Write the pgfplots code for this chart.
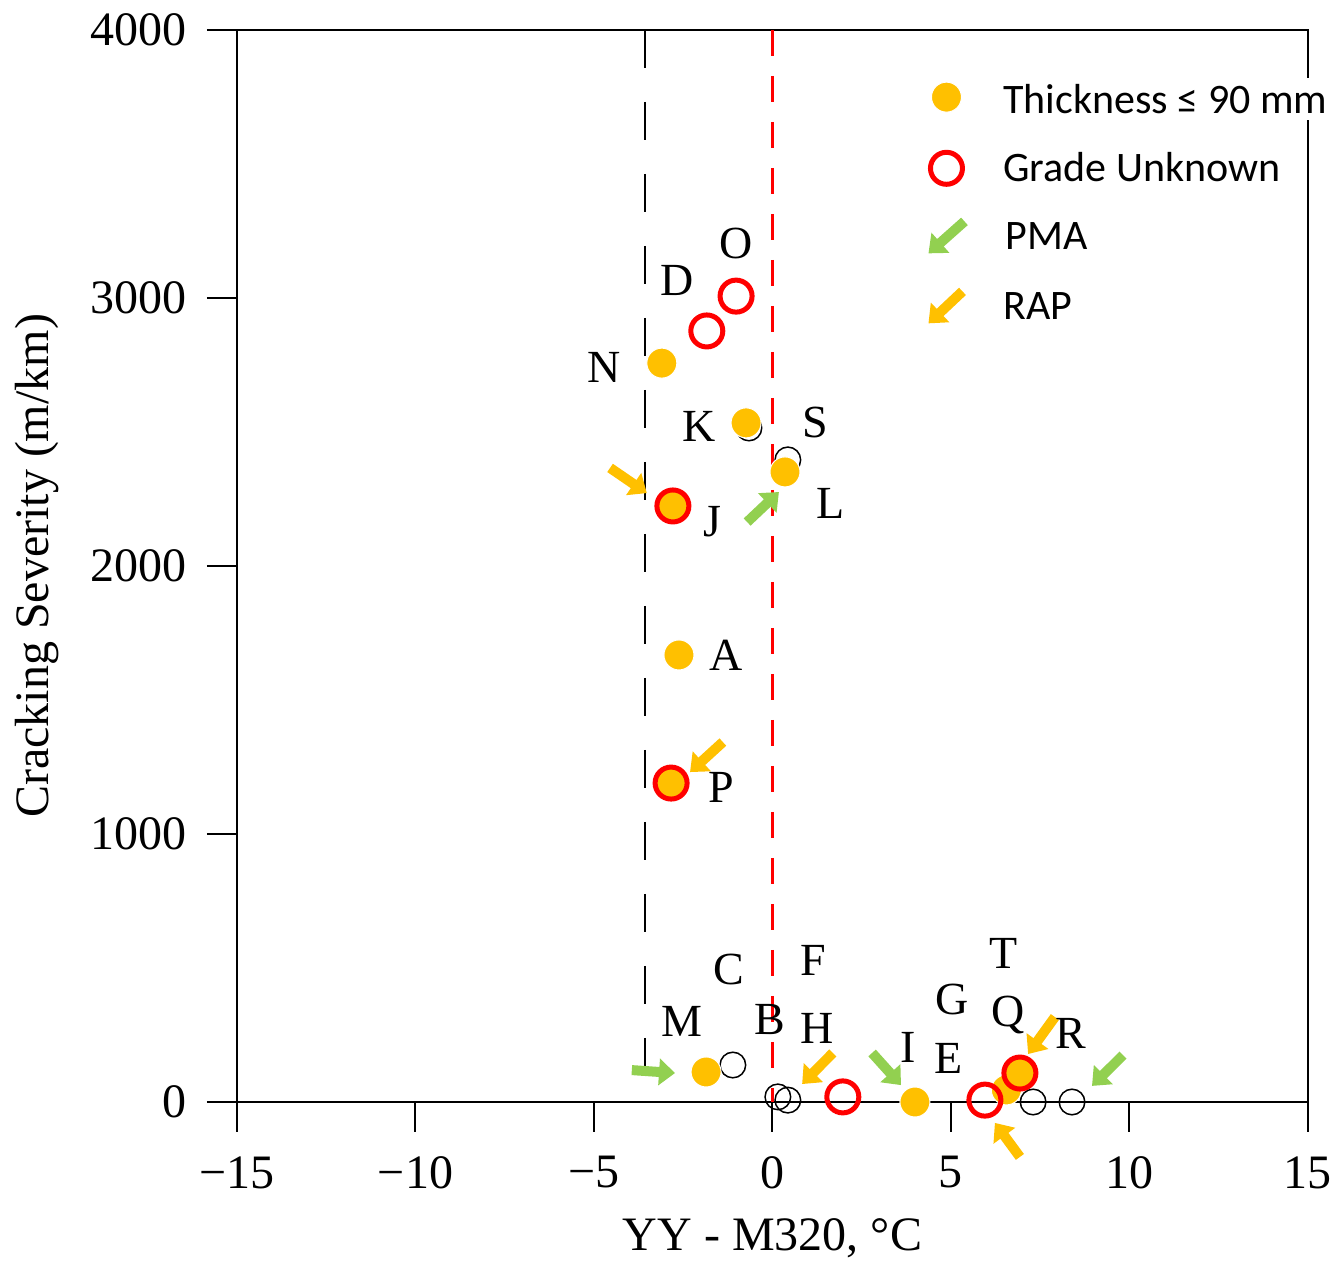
\documentclass[border=0pt]{standalone}
\usepackage{pgfplots}
\pgfplotsset{compat=1.18}
\usetikzlibrary{arrows.meta}
\usepackage{fontspec}
\setmainfont{Liberation Serif}
\newfontfamily\carlito{Carlito}
\definecolor{myyellow}{HTML}{FFC000}
\definecolor{mygreen}{HTML}{92D050}
\definecolor{myred}{HTML}{FF0000}
\begin{document}
\begin{tikzpicture}
\begin{axis}[
  name=ax, scale only axis, width=535.5pt, height=536pt,
  xmin=-15, xmax=15, ymin=0, ymax=4000,
  xtick={-15,-10,-5,0,5,10,15},
  xticklabels={−15,−10,−5,0,5,10,15},
  ytick={0,1000,2000,3000,4000},
  yticklabels={0,1000,2000,3000,4000},
  tick align=outside, tick pos=left, major tick length=15pt,
  tick style={line width=1pt, black},
  axis line style={line width=1pt},
  ticklabel style={font=\fontsize{24}{28}\selectfont},
  yticklabel style={anchor=east, inner sep=0pt, xshift=-10pt},
  xticklabel style={anchor=north, inner sep=0pt, yshift=-12pt},
  xlabel={YY - M320, °C},
  ylabel={Cracking Severity (m/km)},
  every axis x label/.style={at={(axis description cs:0.5,0)}, anchor=center, yshift=-68pt, font=\fontsize{24}{28}\selectfont},
  every axis y label/.style={at={(axis description cs:0,0.5)}, anchor=center, rotate=90, yshift=100pt, font=\fontsize{24}{28}\selectfont},
  clip=false,
  legend style={at={(axis description cs:0.635,0.963)}, anchor=north west, draw=none, fill=none,
    font=\carlito\fontsize{21}{25}\selectfont, row sep=14pt},
  legend cell align=left,
]
\coordinate (SW) at (rel axis cs:0,0);
% black open circles
\addplot[forget plot, only marks, mark=o, mark size=6.4pt, mark options={line width=0.75pt, draw=black}] table {
x y
-0.66 2515
0.43 2396
-1.11 138
0.15 19
0.43 7
7.30 0
8.39 0
};
% yellow filled dots (thickness <= 90 mm)
\addplot[only marks, mark=*, mark size=7.5pt, mark options={fill=myyellow, draw=white, line width=0.5pt}] table {
x y
-3.10 2757
-0.74 2534
0.35 2351
-2.79 2224
-2.62 1668
-2.84 1190
-1.86 112
3.99 0
6.55 45
6.93 108
};
\addlegendentry{\hspace*{12pt}\colorbox{white}{Thickness ≤ 90 mm}}
% red rings (grade unknown)
\addplot[only marks, mark=o, mark size=8pt, mark options={line width=2.5pt, draw=myred}] table {
x y
-1.84 2877
-1.02 3007
-2.79 2224
-2.84 1190
1.97 19
5.95 7
6.93 108
};
\addlegendentry{\hspace*{15pt}Grade Unknown}
\addlegendimage{legend image code/.code={\draw[mygreen, line width=5pt, -{Triangle[width=13pt,length=8pt]}] (0.3cm+9pt,8pt) -- (0.3cm-9pt,-8pt);}}
\addlegendentry{\hspace*{16pt}PMA}
\addlegendimage{legend image code/.code={\draw[myyellow, line width=5pt, -{Triangle[width=13pt,length=8pt]}] (0.3cm+8pt,8pt) -- (0.3cm-9pt,-8pt);}}
\addlegendentry{\hspace*{15pt}RAP}
% dashed reference lines
\addplot[forget plot, black, line width=1pt, dash pattern=on 19pt off 17pt] coordinates {(-3.57,4000) (-3.57,0)};
\addplot[forget plot, myred, line width=1.5pt, dash pattern=on 13pt off 10pt] coordinates {(0,4000) (0,0)};
% arrows RAP
\addplot[forget plot, myyellow, line width=5pt, -{Triangle[width=13pt,length=8pt]}, quiver={u=\thisrow{u}, v=\thisrow{v}}] table {
x y u v
-4.55 2366 1.03 -94
-1.39 1343 -0.92 -112
1.69 183 -0.86 -116
7.91 317 -0.75 -138
6.93 -205 -0.70 127
};
% arrows PMA
\addplot[forget plot, mygreen, line width=5pt, -{Triangle[width=13pt,length=8pt]}, quiver={u=\thisrow{u}, v=\thisrow{v}}] table {
x y u v
-0.71 2164 0.89 112
-3.94 119 1.21 -11
2.79 183 0.81 -120
9.82 175 -0.87 -115
};
% point labels
\begin{scope}[every node/.style={font=\fontsize{23}{27}\selectfont, inner sep=0pt}]
\node at (axis cs:-1.02,3205) {O};
\node at (axis cs:-2.68,3067) {D};
\node at (axis cs:-4.72,2739) {N};
\node at (axis cs:-2.06,2519) {K};
\node at (axis cs:1.19,2537) {S};
\node at (axis cs:1.64,2235) {L};
\node at (axis cs:-1.69,2164) {J};
\node at (axis cs:-1.31,1668) {A};
\node at (axis cs:-1.44,1172) {P};
\node at (axis cs:-1.22,493) {C};
\node at (axis cs:1.13,530) {F};
\node at (axis cs:-2.54,299) {M};
\node at (axis cs:-0.07,306) {B};
\node at (axis cs:1.25,276) {H};
\node at (axis cs:3.79,205) {I};
\node at (axis cs:4.92,164) {E};
\node at (axis cs:5.03,381) {G};
\node at (axis cs:6.48,556) {T};
\node at (axis cs:6.60,325) {Q};
\node at (axis cs:8.36,257) {R};
\end{scope}
\end{axis}
\pgfresetboundingbox
\path (SW) ++(-118.5pt,-80.5pt) rectangle ++(670pt,631.5pt);
\end{tikzpicture}
\end{document}
